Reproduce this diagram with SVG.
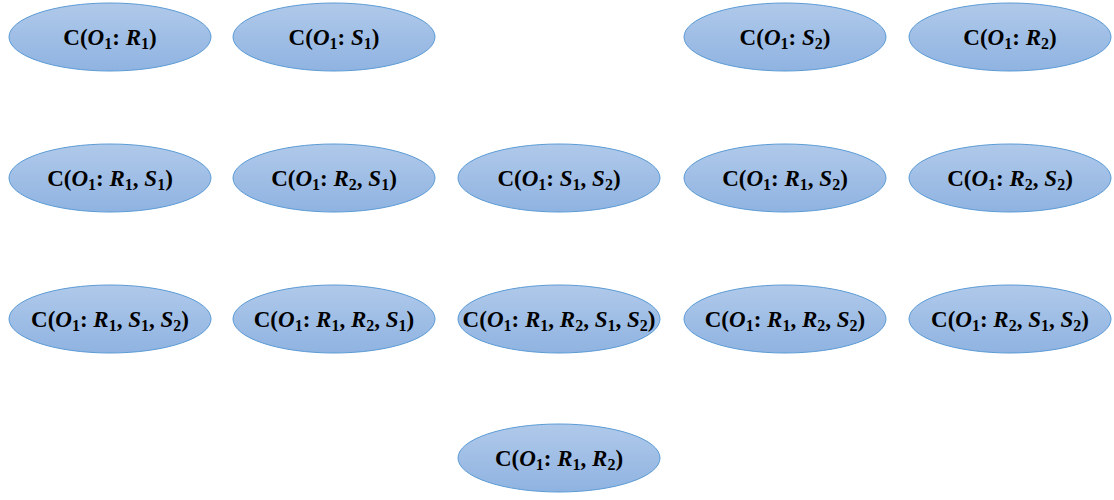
<svg xmlns="http://www.w3.org/2000/svg" width="1114" height="500" viewBox="0 0 1114 500">
<defs>
<linearGradient id="g" x1="0" y1="0" x2="0" y2="1">
<stop offset="0" stop-color="#b0c9ea"/>
<stop offset="1" stop-color="#8fb3e1"/>
</linearGradient>
</defs>
<style>
.n ellipse{fill:url(#g);stroke:#5b9bd5;stroke-width:1}
.n text{font-family:"Liberation Serif","DejaVu Serif",serif;font-weight:bold;font-size:23px;fill:#000;text-anchor:middle}
.i{font-style:italic}
.s{font-size:16px;font-style:normal}
</style>
<rect width="1114" height="500" fill="#fff"/>
<g id="connectors"/>
<g id="n-r1" class="n"><ellipse cx="110" cy="37" rx="101" ry="34"/><text x="110" y="45">C(<tspan class="i">O</tspan><tspan class="s" dy="4">1</tspan><tspan dy="-4">: </tspan><tspan class="i">R</tspan><tspan class="s" dy="4">1</tspan><tspan dy="-4">)</tspan></text></g>
<g id="n-s1" class="n"><ellipse cx="334" cy="37" rx="101" ry="34"/><text x="334" y="45">C(<tspan class="i">O</tspan><tspan class="s" dy="4">1</tspan><tspan dy="-4">: </tspan><tspan class="i">S</tspan><tspan class="s" dy="4">1</tspan><tspan dy="-4">)</tspan></text></g>
<g id="n-s2" class="n"><ellipse cx="785" cy="37" rx="101" ry="34"/><text x="785" y="45">C(<tspan class="i">O</tspan><tspan class="s" dy="4">1</tspan><tspan dy="-4">: </tspan><tspan class="i">S</tspan><tspan class="s" dy="4">2</tspan><tspan dy="-4">)</tspan></text></g>
<g id="n-r2" class="n"><ellipse cx="1010" cy="37" rx="101" ry="34"/><text x="1010" y="45">C(<tspan class="i">O</tspan><tspan class="s" dy="4">1</tspan><tspan dy="-4">: </tspan><tspan class="i">R</tspan><tspan class="s" dy="4">2</tspan><tspan dy="-4">)</tspan></text></g>

<g id="n-r1s1" class="n"><ellipse cx="110" cy="178" rx="101" ry="34"/><text x="110" y="186">C(<tspan class="i">O</tspan><tspan class="s" dy="4">1</tspan><tspan dy="-4">: </tspan><tspan class="i">R</tspan><tspan class="s" dy="4">1</tspan><tspan dy="-4">, </tspan><tspan class="i">S</tspan><tspan class="s" dy="4">1</tspan><tspan dy="-4">)</tspan></text></g>
<g id="n-r2s1" class="n"><ellipse cx="334" cy="178" rx="101" ry="34"/><text x="334" y="186">C(<tspan class="i">O</tspan><tspan class="s" dy="4">1</tspan><tspan dy="-4">: </tspan><tspan class="i">R</tspan><tspan class="s" dy="4">2</tspan><tspan dy="-4">, </tspan><tspan class="i">S</tspan><tspan class="s" dy="4">1</tspan><tspan dy="-4">)</tspan></text></g>
<g id="n-s1s2" class="n"><ellipse cx="559" cy="178" rx="101" ry="34"/><text x="559" y="186">C(<tspan class="i">O</tspan><tspan class="s" dy="4">1</tspan><tspan dy="-4">: </tspan><tspan class="i">S</tspan><tspan class="s" dy="4">1</tspan><tspan dy="-4">, </tspan><tspan class="i">S</tspan><tspan class="s" dy="4">2</tspan><tspan dy="-4">)</tspan></text></g>
<g id="n-r1s2" class="n"><ellipse cx="785" cy="178" rx="101" ry="34"/><text x="785" y="186">C(<tspan class="i">O</tspan><tspan class="s" dy="4">1</tspan><tspan dy="-4">: </tspan><tspan class="i">R</tspan><tspan class="s" dy="4">1</tspan><tspan dy="-4">, </tspan><tspan class="i">S</tspan><tspan class="s" dy="4">2</tspan><tspan dy="-4">)</tspan></text></g>
<g id="n-r2s2" class="n"><ellipse cx="1010" cy="178" rx="101" ry="34"/><text x="1010" y="186">C(<tspan class="i">O</tspan><tspan class="s" dy="4">1</tspan><tspan dy="-4">: </tspan><tspan class="i">R</tspan><tspan class="s" dy="4">2</tspan><tspan dy="-4">, </tspan><tspan class="i">S</tspan><tspan class="s" dy="4">2</tspan><tspan dy="-4">)</tspan></text></g>

<g id="n-r1s1s2" class="n"><ellipse cx="110" cy="319" rx="101" ry="34"/><text x="110" y="327">C(<tspan class="i">O</tspan><tspan class="s" dy="4">1</tspan><tspan dy="-4">: </tspan><tspan class="i">R</tspan><tspan class="s" dy="4">1</tspan><tspan dy="-4">, </tspan><tspan class="i">S</tspan><tspan class="s" dy="4">1</tspan><tspan dy="-4">, </tspan><tspan class="i">S</tspan><tspan class="s" dy="4">2</tspan><tspan dy="-4">)</tspan></text></g>
<g id="n-r1r2s1" class="n"><ellipse cx="334" cy="319" rx="101" ry="34"/><text x="334" y="327">C(<tspan class="i">O</tspan><tspan class="s" dy="4">1</tspan><tspan dy="-4">: </tspan><tspan class="i">R</tspan><tspan class="s" dy="4">1</tspan><tspan dy="-4">, </tspan><tspan class="i">R</tspan><tspan class="s" dy="4">2</tspan><tspan dy="-4">, </tspan><tspan class="i">S</tspan><tspan class="s" dy="4">1</tspan><tspan dy="-4">)</tspan></text></g>
<g id="n-all" class="n"><ellipse cx="559" cy="319" rx="101" ry="34"/><text x="559" y="327">C(<tspan class="i">O</tspan><tspan class="s" dy="4">1</tspan><tspan dy="-4">: </tspan><tspan class="i">R</tspan><tspan class="s" dy="4">1</tspan><tspan dy="-4">, </tspan><tspan class="i">R</tspan><tspan class="s" dy="4">2</tspan><tspan dy="-4">, </tspan><tspan class="i">S</tspan><tspan class="s" dy="4">1</tspan><tspan dy="-4">, </tspan><tspan class="i">S</tspan><tspan class="s" dy="4">2</tspan><tspan dy="-4">)</tspan></text></g>
<g id="n-r1r2s2" class="n"><ellipse cx="785" cy="319" rx="101" ry="34"/><text x="785" y="327">C(<tspan class="i">O</tspan><tspan class="s" dy="4">1</tspan><tspan dy="-4">: </tspan><tspan class="i">R</tspan><tspan class="s" dy="4">1</tspan><tspan dy="-4">, </tspan><tspan class="i">R</tspan><tspan class="s" dy="4">2</tspan><tspan dy="-4">, </tspan><tspan class="i">S</tspan><tspan class="s" dy="4">2</tspan><tspan dy="-4">)</tspan></text></g>
<g id="n-r2s1s2" class="n"><ellipse cx="1010" cy="319" rx="101" ry="34"/><text x="1010" y="327">C(<tspan class="i">O</tspan><tspan class="s" dy="4">1</tspan><tspan dy="-4">: </tspan><tspan class="i">R</tspan><tspan class="s" dy="4">2</tspan><tspan dy="-4">, </tspan><tspan class="i">S</tspan><tspan class="s" dy="4">1</tspan><tspan dy="-4">, </tspan><tspan class="i">S</tspan><tspan class="s" dy="4">2</tspan><tspan dy="-4">)</tspan></text></g>

<g id="n-r1r2" class="n"><ellipse cx="559" cy="458" rx="101" ry="34"/><text x="559" y="466">C(<tspan class="i">O</tspan><tspan class="s" dy="4">1</tspan><tspan dy="-4">: </tspan><tspan class="i">R</tspan><tspan class="s" dy="4">1</tspan><tspan dy="-4">, </tspan><tspan class="i">R</tspan><tspan class="s" dy="4">2</tspan><tspan dy="-4">)</tspan></text></g>
</svg>
